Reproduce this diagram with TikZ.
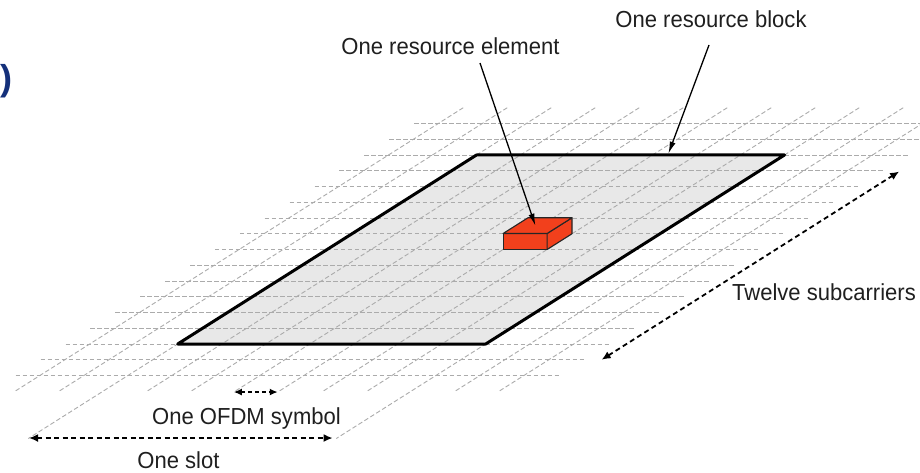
\documentclass[tikz,border=0pt]{standalone}
\usepackage{fontspec}
\setmainfont{Liberation Sans}
\newfontfamily\lblfont[FakeStretch=0.95]{Liberation Sans}
\usetikzlibrary{arrows.meta}
\definecolor{gridgray}{HTML}{ABABAB}
\definecolor{rbfill}{HTML}{E8E8E8}
\definecolor{refill}{HTML}{F2401C}
\definecolor{navy}{HTML}{14307A}
\begin{document}
\begin{tikzpicture}[x=1pt,y=-1pt,
  lbl/.style={font=\lblfont\fontsize{23.2}{27}\selectfont, anchor=base, inner sep=0pt, text=black!88},
  gridline/.style={draw=gridgray, line width=0.9pt, dash pattern=on 4.5pt off 2.5pt},
  dimarrow/.style={line width=1.8pt, dash pattern=on 5pt off 3.5pt,
    {Latex[length=9pt,width=8pt]}-{Latex[length=9pt,width=8pt]}},
  ptr/.style={line width=1.3pt, -{Latex[length=12pt,width=6pt]}},
  rbedge/.style={line width=3pt, line join=round},
  reface/.style={fill=refill, draw=black!85, line width=1.1pt, line join=round}
]
\useasboundingbox (0,0) rectangle (920,473);

\node[font=\fontsize{36}{40}\selectfont\bfseries, text=navy, inner sep=0pt] (paren) at (6.5,81) {)};

\begin{scope}[shift={(476.5,155)}, x={(44pt,0pt)}, y={(-24.9pt,-15.75pt)}]
  \coordinate (rbA) at (0,0);
  \coordinate (rbB) at (7,0);
  \coordinate (rbC) at (7,12);
  \coordinate (rbD) at (0,12);
  \fill[rbfill] (rbA) -- (rbB) -- (rbC) -- (rbD) -- cycle;
  % grid
  \foreach \v in {-2,...,14} \draw[gridline] (-2.55,\v) -- (9.85,\v);
  \foreach \u in {-2,-1,1,2,3,4,5,6,8,9} \draw[gridline] (\u,-3) -- (\u,15);
  \foreach \u in {0,7} \draw[gridline] (\u,-3) -- (\u,18);
  % resource block outline
  \draw[rbedge] (rbA) -- (rbB) -- (rbC) -- (rbD) -- cycle;
  % resource element box
  \coordinate (reFL) at (4,6);
  \coordinate (reFR) at (5,6);
  \coordinate (reBR) at (5,5);
  \coordinate (reBL) at (4,5);
  \coordinate (reTFL) at ([yshift=16pt]reFL);
  \coordinate (reTFR) at ([yshift=16pt]reFR);
  \coordinate (reTBR) at ([yshift=16pt]reBR);
  \coordinate (reTBL) at ([yshift=16pt]reBL);
  \draw[reface] (reFL) -- (reFR) -- (reTFR) -- (reTFL) -- cycle;
  \draw[reface] (reFR) -- (reBR) -- (reTBR) -- (reTFR) -- cycle;
  \draw[reface] (reTFL) -- (reTFR) -- (reTBR) -- (reTBL) -- cycle;
  \coordinate (reTop) at ([yshift=16pt]4.45,5.5);
  \coordinate (rbTip) at (4.35,0);
  % dimension arrows
  \coordinate (scLow) at (10.2,13);
  \coordinate (scHigh) at (10.2,1.05);
  \coordinate (symL) at (3,15.05);
  \coordinate (symR) at (4,15.05);
  \coordinate (slotL) at (0,17.97);
  \coordinate (slotR) at (6.9,17.97);
\end{scope}

\draw[dimarrow] (scLow) -- (scHigh);
\draw[line width=1.8pt, dash pattern=on 4pt off 3pt,
  {Latex[length=8pt,width=7pt]}-{Latex[length=8pt,width=7pt]}] (symL) -- (symR);
\draw[dimarrow] (slotL) -- (slotR);

\node[lbl] (elemlbl) at (450.5,55) {One resource element};
\node[lbl] (blocklbl) at (711,27.3) {One resource block};
\node[lbl] (twelvelbl) at (824,300.7) {Twelve subcarriers};
\node[lbl] (ofdmlbl) at (246.5,424) {One OFDM symbol};
\node[lbl] (slotlbl) at (178.5,468) {One slot};

\coordinate (elemstart) at (480,63);
\coordinate (blockstart) at (709,45);
\draw[ptr] (elemstart) -- (reTop);
\draw[ptr, shorten >=1.5pt] (blockstart) -- (rbTip);
\end{tikzpicture}
\end{document}
